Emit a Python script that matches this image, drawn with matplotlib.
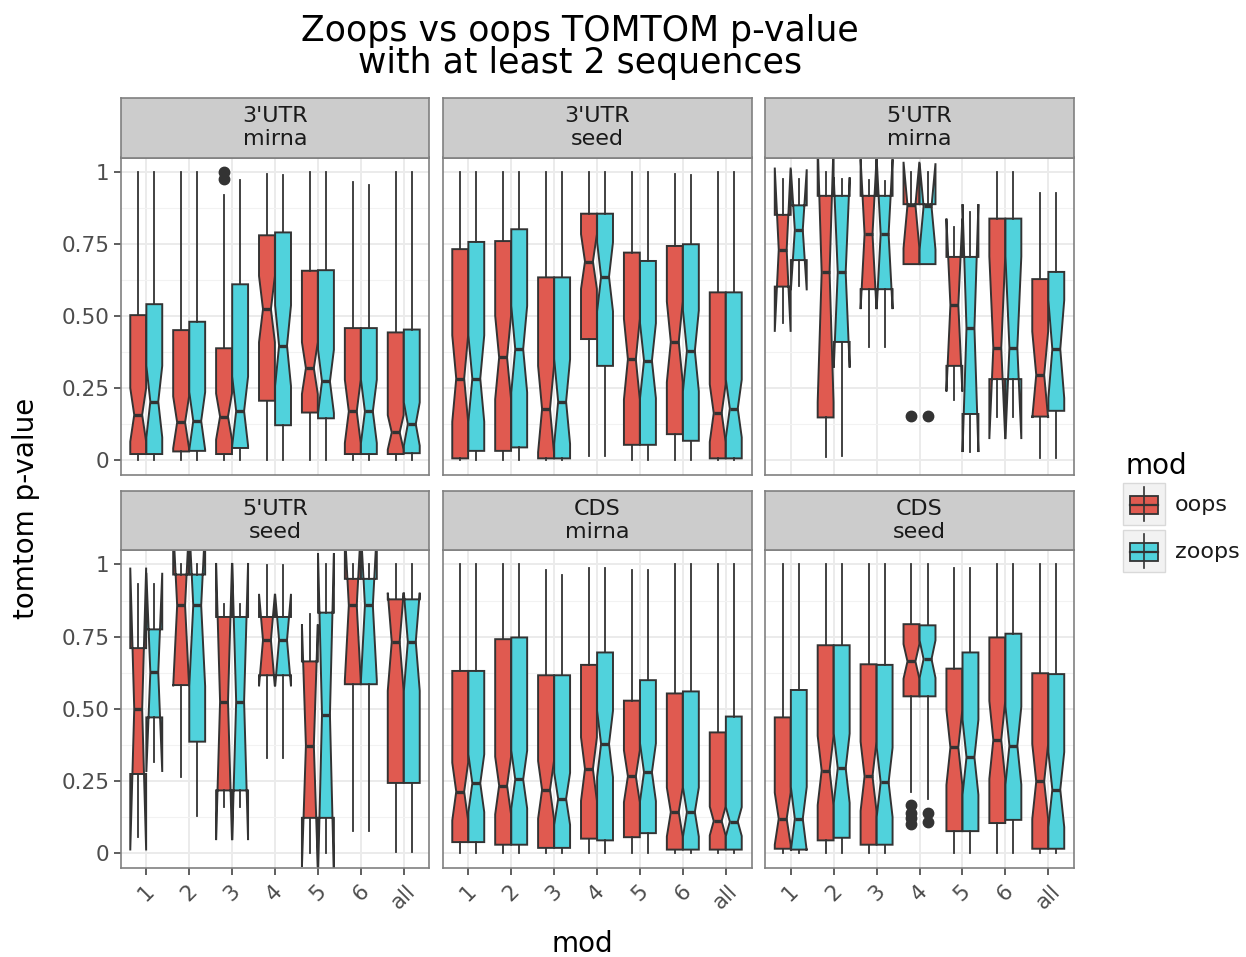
import matplotlib
matplotlib.use("Agg")
import matplotlib.pyplot as plt
from matplotlib.patches import Rectangle

# ---------------- data ----------------
panels = ["3'UTR\nmirna", "3'UTR\nseed", "5'UTR\nmirna", "5'UTR\nseed", "CDS\nmirna", "CDS\nseed"]
categories = ["1", "2", "3", "4", "5", "6", "all"]
series = ["oops", "zoops"]

oops_whishi = [
    [1.0, 1.0, 0.919, 0.992, 1.0, 0.965, 1.0],
    [1.0, 1.0, 1.0, 1.0, 1.0, 0.992, 1.0],
    [0.977, 1.0, 0.972, 1.0, 0.81, 1.0, 0.928],
    [0.933, 1.0, 0.864, 0.998, 0.827, 1.0, 1.0],
    [1.0, 1.0, 0.979, 0.986, 0.979, 1.0, 1.0],
    [1.0, 1.0, 1.0, 1.0, 0.986, 1.0, 1.0],
]
oops_q3 = [
    [0.503, 0.451, 0.388, 0.780, 0.657, 0.458, 0.443],
    [0.732, 0.760, 0.634, 0.855, 0.720, 0.743, 0.582],
    [0.851, 0.917, 0.917, 0.888, 0.705, 0.838, 0.628],
    [0.710, 0.965, 0.818, 0.818, 0.664, 0.950, 0.879],
    [0.631, 0.741, 0.616, 0.652, 0.528, 0.553, 0.418],
    [0.470, 0.720, 0.654, 0.793, 0.639, 0.747, 0.623],
]
oops_med = [
    [0.157, 0.131, 0.151, 0.524, 0.319, 0.169, 0.096],
    [0.283, 0.356, 0.177, 0.689, 0.350, 0.410, 0.163],
    [0.730, 0.651, 0.784, 0.885, 0.538, 0.390, 0.296],
    [0.499, 0.858, 0.525, 0.738, 0.372, 0.858, 0.732],
    [0.213, 0.234, 0.219, 0.291, 0.266, 0.142, 0.111],
    [0.119, 0.286, 0.266, 0.664, 0.366, 0.392, 0.248],
]
oops_q1 = [
    [0.021, 0.030, 0.021, 0.206, 0.165, 0.021, 0.021],
    [0.006, 0.032, 0.006, 0.420, 0.053, 0.090, 0.006],
    [0.602, 0.148, 0.593, 0.680, 0.327, 0.281, 0.151],
    [0.274, 0.582, 0.217, 0.616, 0.122, 0.585, 0.243],
    [0.038, 0.029, 0.018, 0.050, 0.055, 0.012, 0.012],
    [0.015, 0.044, 0.029, 0.543, 0.076, 0.104, 0.015],
]
oops_whislo = [
    [0.0, 0.0, 0.0, 0.0, 0.0, 0.0, 0.0],
    [0.0, 0.0, 0.0, 0.015, 0.0, 0.0, 0.0],
    [0.475, 0.009, 0.394, 0.680, 0.209, 0.148, 0.006],
    [0.055, 0.263, 0.159, 0.330, 0.0, 0.078, 0.003],
    [0.0, 0.0, 0.0, 0.0, 0.0, 0.0, 0.0],
    [0.0, 0.0, 0.0, 0.211, 0.0, 0.0, 0.0],
]
oops_notch = [
    [0.093, 0.09, 0.08, 0.115, 0.09, 0.11, 0.06],
    [0.15, 0.145, 0.15, 0.095, 0.14, 0.14, 0.10],
    [0.285, 0.45, 0.26, 0.15, 0.30, 0.317, 0.15],
    [0.49, 0.28, 0.48, 0.16, 0.42, 0.26, 0.17],
    [0.10, 0.10, 0.10, 0.11, 0.09, 0.085, 0.05],
    [0.09, 0.12, 0.12, 0.06, 0.13, 0.135, 0.13],
]
oops_fliers = [
    [[], [], [1.0, 0.977], [], [], [], []],
    [[], [], [], [], [], [], []],
    [[], [], [], [0.154], [], [], []],
    [[], [], [], [], [], [], []],
    [[], [], [], [], [], [], []],
    [[], [], [], [0.165, 0.14, 0.12, 0.10], [], [], []],
]

zoops_whishi = [
    [1.0, 1.0, 0.972, 0.99, 1.0, 0.954, 1.0],
    [1.0, 1.0, 1.0, 1.0, 1.0, 0.99, 1.0],
    [0.975, 0.975, 0.97, 1.0, 0.86, 1.0, 0.928],
    [0.933, 1.0, 0.864, 0.998, 1.0, 1.0, 1.0],
    [1.0, 1.0, 0.963, 0.986, 0.979, 1.0, 1.0],
    [1.0, 1.0, 1.0, 1.0, 0.986, 1.0, 1.0],
]
zoops_q3 = [
    [0.541, 0.480, 0.610, 0.790, 0.659, 0.458, 0.453],
    [0.757, 0.801, 0.634, 0.855, 0.691, 0.749, 0.582],
    [0.884, 0.917, 0.917, 0.888, 0.705, 0.838, 0.653],
    [0.775, 0.965, 0.818, 0.818, 0.833, 0.950, 0.879],
    [0.631, 0.747, 0.616, 0.695, 0.599, 0.560, 0.473],
    [0.565, 0.720, 0.652, 0.789, 0.695, 0.760, 0.620],
]
zoops_med = [
    [0.203, 0.136, 0.170, 0.397, 0.273, 0.169, 0.125],
    [0.283, 0.385, 0.203, 0.636, 0.345, 0.379, 0.179],
    [0.799, 0.651, 0.784, 0.880, 0.458, 0.390, 0.385],
    [0.626, 0.858, 0.525, 0.738, 0.479, 0.858, 0.732],
    [0.242, 0.255, 0.188, 0.378, 0.280, 0.142, 0.109],
    [0.119, 0.294, 0.245, 0.672, 0.332, 0.372, 0.220],
]
zoops_q1 = [
    [0.021, 0.032, 0.042, 0.121, 0.145, 0.021, 0.024],
    [0.032, 0.044, 0.006, 0.327, 0.053, 0.067, 0.006],
    [0.694, 0.410, 0.593, 0.680, 0.160, 0.281, 0.171],
    [0.470, 0.386, 0.217, 0.616, 0.122, 0.585, 0.243],
    [0.038, 0.029, 0.018, 0.044, 0.069, 0.012, 0.012],
    [0.012, 0.053, 0.029, 0.543, 0.076, 0.115, 0.015],
]
zoops_whislo = [
    [0.0, 0.0, 0.0, 0.0, 0.0, 0.0, 0.0],
    [0.0, 0.0, 0.0, 0.015, 0.0, 0.0, 0.0],
    [0.605, 0.015, 0.394, 0.680, 0.027, 0.148, 0.006],
    [0.315, 0.130, 0.159, 0.330, 0.0, 0.078, 0.003],
    [0.0, 0.0, 0.0, 0.0, 0.0, 0.0, 0.0],
    [0.0, 0.0, 0.0, 0.188, 0.0, 0.0, 0.0],
]
zoops_notch = [
    [0.124, 0.10, 0.12, 0.14, 0.11, 0.11, 0.075],
    [0.15, 0.15, 0.147, 0.12, 0.13, 0.14, 0.10],
    [0.21, 0.33, 0.26, 0.15, 0.43, 0.317, 0.17],
    [0.345, 0.28, 0.48, 0.16, 0.56, 0.26, 0.17],
    [0.10, 0.10, 0.09, 0.115, 0.10, 0.085, 0.05],
    [0.11, 0.12, 0.12, 0.065, 0.13, 0.135, 0.13],
]
zoops_fliers = [
    [[], [], [], [], [], [], []],
    [[], [], [], [], [], [], []],
    [[], [], [], [0.154], [], [], []],
    [[], [], [], [], [], [], []],
    [[], [], [], [], [], [], []],
    [[], [], [], [0.138, 0.107], [], [], []],
]

y_ticks = [0, 0.25, 0.5, 0.75, 1.0]
y_ticklabels = ["0", "0.25", "0.50", "0.75", "1"]

# ---------------- style ----------------
W, H = 1246, 957
fill_colors = {"oops": "#E05A50", "zoops": "#50D2DC"}
offsets = {"oops": -0.1875, "zoops": 0.1875}
dark = "#333333"
border = "#808080"
grid_col = "#EBEBEB"

plt.rcParams["font.family"] = ["DejaVu Sans"]
fig = plt.figure(figsize=(W / 100, H / 100), dpi=100)


def rect(x0, y0, x1, y1):
    return [x0 / W, 1 - y1 / H, (x1 - x0) / W, (y1 - y0) / H]


col_x = [(120.5, 429.5), (442.5, 751.5), (765.0, 1074.0)]
row_y = [(157.5, 474.5), (550.0, 867.5)]
strip_y = [(98.0, 157.5), (490.5, 550.0)]

data = {
    "oops": (oops_whishi, oops_q3, oops_med, oops_q1, oops_whislo, oops_notch, oops_fliers),
    "zoops": (zoops_whishi, zoops_q3, zoops_med, zoops_q1, zoops_whislo, zoops_notch, zoops_fliers),
}

for p, pname in enumerate(panels):
    r, c = divmod(p, 3)
    x0, x1 = col_x[c]
    y0, y1 = row_y[r]
    ax = fig.add_axes(rect(x0, y0, x1, y1))
    ax.set_xlim(0.4, 7.6)
    ax.set_ylim(-0.05, 1.05)
    ax.set_axisbelow(True)
    ax.set_yticks(y_ticks)
    ax.set_yticks([0.125, 0.375, 0.625, 0.875], minor=True)
    ax.set_xticks(range(1, len(categories) + 1))
    ax.grid(which="major", color=grid_col, linewidth=1.4)
    ax.grid(which="minor", axis="y", color="#F2F2F2", linewidth=0.8)
    for sp in ax.spines.values():
        sp.set_color(border)
        sp.set_linewidth(1.2)
    ax.tick_params(which="minor", length=0)
    ax.tick_params(which="major", length=5, width=1.1, color=dark,
                   labelcolor="#4D4D4D", labelsize=15.5, pad=3)
    ax.tick_params(axis="x", pad=5)
    if c == 0:
        ax.set_yticklabels(y_ticklabels)
    else:
        ax.tick_params(axis="y", left=False, labelleft=False)
    if r == 1:
        ax.set_xticklabels(categories, rotation=45, ha="center", va="top")
    else:
        ax.tick_params(axis="x", bottom=False, labelbottom=False)

    for s in series:
        whishi, q3, med, q1, whislo, notch, fliers = data[s]
        stats = []
        pos = []
        for i in range(len(categories)):
            stats.append(dict(
                med=med[p][i], q1=q1[p][i], q3=q3[p][i],
                whislo=whislo[p][i], whishi=whishi[p][i],
                cilo=med[p][i] - notch[p][i], cihi=med[p][i] + notch[p][i],
                fliers=fliers[p][i],
            ))
            pos.append(i + 1 + offsets[s])
        ax.bxp(stats, positions=pos, widths=0.37, shownotches=True,
               patch_artist=True, showcaps=False, manage_ticks=False,
               boxprops=dict(facecolor=fill_colors[s], edgecolor=dark, linewidth=1.4),
               whiskerprops=dict(color=dark, linewidth=1.3),
               medianprops=dict(color=dark, linewidth=2.4),
               flierprops=dict(marker="o", markerfacecolor=dark, markeredgecolor=dark,
                               markersize=7.5))

    sy0, sy1 = strip_y[r]
    sax = fig.add_axes(rect(x0, sy0, x1, sy1))
    sax.set_facecolor("#CCCCCC")
    sax.set_xticks([])
    sax.set_yticks([])
    for sp in sax.spines.values():
        sp.set_color(border)
        sp.set_linewidth(1.2)
    sax.text(0.5, 0.5, pname, ha="center", va="center", fontsize=16,
             color="#1A1A1A", transform=sax.transAxes, linespacing=1.2)

# overlay for titles and legend (pixel coordinates)
ov = fig.add_axes([0, 0, 1, 1])
ov.set_xlim(0, W)
ov.set_ylim(H, 0)
ov.axis("off")
ov.patch.set_alpha(0)

ov.text(580, 47, "Zoops vs oops TOMTOM p-value\nwith at least 2 sequences",
        ha="center", va="center", fontsize=25, color="black", linespacing=0.95)
ov.text(582, 944, "mod", ha="center", va="center", fontsize=20, color="black")
ov.text(26, 508, "tomtom p-value", ha="center", va="center", fontsize=20,
        rotation=90, color="black")

# legend
ov.text(1126, 466, "mod", ha="left", va="center", fontsize=20, color="black")
for k, s in enumerate(series):
    ky = 483 + 47 * k
    ov.add_patch(Rectangle((1123, ky), 42, 42, facecolor="#F2F2F2",
                           edgecolor="#D9D9D9", linewidth=1.0))
    ov.plot([1144, 1144], [ky + 4, ky + 38], color=dark, linewidth=1.2)
    ov.add_patch(Rectangle((1130, ky + 13), 28, 18, facecolor=fill_colors[s],
                           edgecolor=dark, linewidth=1.3))
    ov.plot([1130, 1158], [ky + 22, ky + 22], color=dark, linewidth=1.6)
    ov.text(1175, ky + 22, s, ha="left", va="center", fontsize=16, color="#1A1A1A")

fig.savefig("out.png", dpi=100, facecolor="white")
